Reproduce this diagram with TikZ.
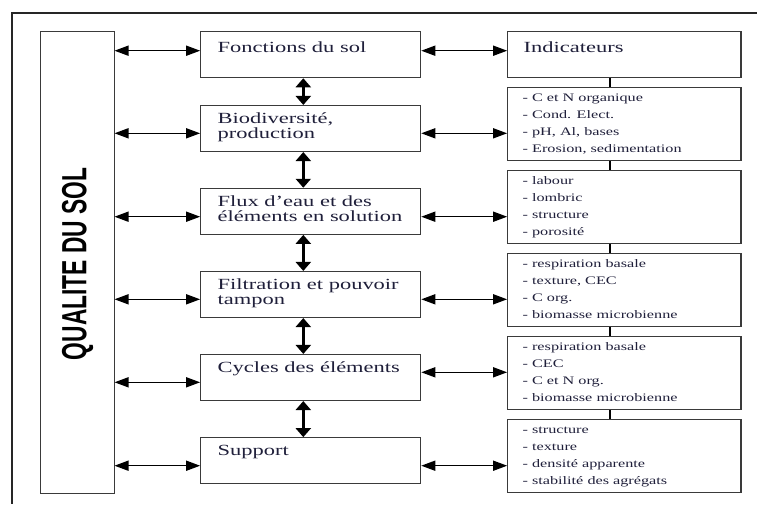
\documentclass[tikz,border=0pt]{standalone}
\usepackage{fontspec}
\setmainfont{Liberation Serif}
\newfontfamily\wideserif[FakeStretch=1.45]{Liberation Serif}
\newfontfamily\indserif[FakeStretch=1.41]{Liberation Serif}
\newfontfamily\narrowsans[FakeStretch=0.65]{Liberation Sans Bold}
\usetikzlibrary{arrows.meta}
\definecolor{txt}{HTML}{1F1F3A}
\definecolor{edge}{HTML}{3A3A3A}
\begin{document}
\begin{tikzpicture}[x=1pt,y=-1pt,
  fbox/.style={draw=edge,line width=1.1pt,minimum width=220pt,minimum height=46pt,inner sep=0pt},
  ibox/.style={draw=edge,line width=1.1pt,minimum width=233.3pt,minimum height=73.5pt,inner sep=0pt},
  qbox/.style={draw=edge,line width=1pt,minimum width=73.3pt,minimum height=461.3pt,inner sep=0pt},
  ftext/.style={anchor=base west,inner sep=0pt,text=txt,font=\wideserif\fontsize{15.5}{15.5}\selectfont},
  itext/.style={anchor=base west,inner sep=0pt,text=txt,font=\indserif\fontsize{11.5}{11.5}\selectfont},
  harrow/.style={line width=1.5pt,{Triangle[length=14pt,width=10pt]}-{Triangle[length=14pt,width=10pt]}},
  varrow/.style={line width=3pt,{Triangle[length=9pt,width=15pt]}-{Triangle[length=9pt,width=15pt]}},
  link/.style={line width=2.5pt}]
\useasboundingbox (0,0) rectangle (757,504);
% outer frame
\coordinate (fr) at (757,13);
\coordinate (fc) at (12,13);
\coordinate (fb) at (12,504);
\draw[line width=1.5pt,black!85] (fr) -- (fc) -- (fb);
% left box
\node[qbox] (Q) at (77.35,262.35) {};
\node[rotate=90,inner sep=0pt,font=\narrowsans\fontsize{35}{35}\selectfont] (qt) at (77.5,264) {QUALITE DU SOL};
% function boxes
\node[fbox] (F1) at (310.7,54.7) {};
\node[fbox] (F2) at (310.7,128.5) {};
\node[fbox] (F3) at (310.7,211.3) {};
\node[fbox] (F4) at (310.7,294.5) {};
\node[fbox] (F5) at (310.7,377.5) {};
\node[fbox] (F6) at (310.7,460.7) {};
% indicator boxes
\node[fbox,minimum width=233.3pt] (I1) at (624.35,54.7) {};
\node[ibox] (I2) at (624.35,124.15) {};
\node[ibox] (I3) at (624.35,207) {};
\node[ibox] (I4) at (624.35,290) {};
\node[ibox] (I5) at (624.35,373) {};
\node[ibox] (I6) at (624.35,456) {};
% function texts
\node[ftext] (f1a) at ([xshift=17.3pt,yshift=-21pt]F1.north west) {Fonctions du sol};
\node[ftext] (f2a) at ([xshift=17.3pt,yshift=-18.5pt]F2.north west) {Biodiversité,};
\node[ftext] (f2b) at ([xshift=17.3pt,yshift=-34pt]F2.north west) {production};
\node[ftext] (f3a) at ([xshift=17.3pt,yshift=-18.5pt]F3.north west) {Flux d’eau et des};
\node[ftext] (f3b) at ([xshift=17.3pt,yshift=-34pt]F3.north west) {éléments en solution};
\node[ftext] (f4a) at ([xshift=17.3pt,yshift=-18.5pt]F4.north west) {Filtration et pouvoir};
\node[ftext] (f4b) at ([xshift=17.3pt,yshift=-34pt]F4.north west) {tampon};
\node[ftext] (f5a) at ([xshift=17.3pt,yshift=-18.5pt]F5.north west) {Cycles des éléments};
\node[ftext] (f6a) at ([xshift=17.3pt,yshift=-18.5pt]F6.north west) {Support};
\node[ftext] (i1a) at ([xshift=16.3pt,yshift=-21pt]I1.north west) {Indicateurs};
% indicator texts
\foreach \b/\la/\lb/\lc/\ld in {
  I2/{- C et N organique}/{- Cond. Elect.}/{- pH, Al, bases}/{- Erosion, sedimentation},
  I3/{- labour}/{- lombric}/{- structure}/{- porosité},
  I4/{- respiration basale}/{- texture, CEC}/{- C org.}/{- biomasse microbienne},
  I5/{- respiration basale}/{- CEC}/{- C et N org.}/{- biomasse microbienne},
  I6/{- structure}/{- texture}/{- densité apparente}/{- stabilité des agrégats}}{
  \node[itext] (\b-1) at ([xshift=15.3pt,yshift=-14.5pt]\b.north west) {\la};
  \node[itext] (\b-2) at ([xshift=15.3pt,yshift=-31.7pt]\b.north west) {\lb};
  \node[itext] (\b-3) at ([xshift=15.3pt,yshift=-48.9pt]\b.north west) {\lc};
  \node[itext] (\b-4) at ([xshift=15.3pt,yshift=-66.1pt]\b.north west) {\ld};
}
% horizontal arrows
\coordinate (l1) at (0,50.7);
\coordinate (l2) at (0,133.3);
\coordinate (l3) at (0,216.7);
\coordinate (l4) at (0,299.3);
\coordinate (l5) at (0,382.3);
\coordinate (l6) at (0,465.7);
\coordinate (r5) at (0,372.3);
\draw[harrow] (Q.east |- l1) -- (F1.west |- l1);
\draw[harrow] (Q.east |- l2) -- (F2.west |- l2);
\draw[harrow] (Q.east |- l3) -- (F3.west |- l3);
\draw[harrow] (Q.east |- l4) -- (F4.west |- l4);
\draw[harrow] (Q.east |- l5) -- (F5.west |- l5);
\draw[harrow] (Q.east |- l6) -- (F6.west |- l6);
\draw[harrow] (F1.east |- l1) -- (I1.west |- l1);
\draw[harrow] (F2.east |- l2) -- (I2.west |- l2);
\draw[harrow] (F3.east |- l3) -- (I3.west |- l3);
\draw[harrow] (F4.east |- l4) -- (I4.west |- l4);
\draw[harrow] (F5.east |- r5) -- (I5.west |- r5);
\draw[harrow] (F6.east |- l6) -- (I6.west |- l6);
% vertical arrows
\coordinate (v) at (303.3,0);
\draw[varrow] (F1.south -| v) -- (F2.north -| v);
\draw[varrow] (F2.south -| v) -- (F3.north -| v);
\draw[varrow] (F3.south -| v) -- (F4.north -| v);
\draw[varrow] (F4.south -| v) -- (F5.north -| v);
\draw[varrow] (F5.south -| v) -- (F6.north -| v);
% indicator links
\coordinate (c) at (610,0);
\draw[link] (I1.south -| c) -- (I2.north -| c);
\draw[link] (I2.south -| c) -- (I3.north -| c);
\draw[link] (I3.south -| c) -- (I4.north -| c);
\draw[link] (I4.south -| c) -- (I5.north -| c);
\draw[link] (I5.south -| c) -- (I6.north -| c);
\end{tikzpicture}
\end{document}
